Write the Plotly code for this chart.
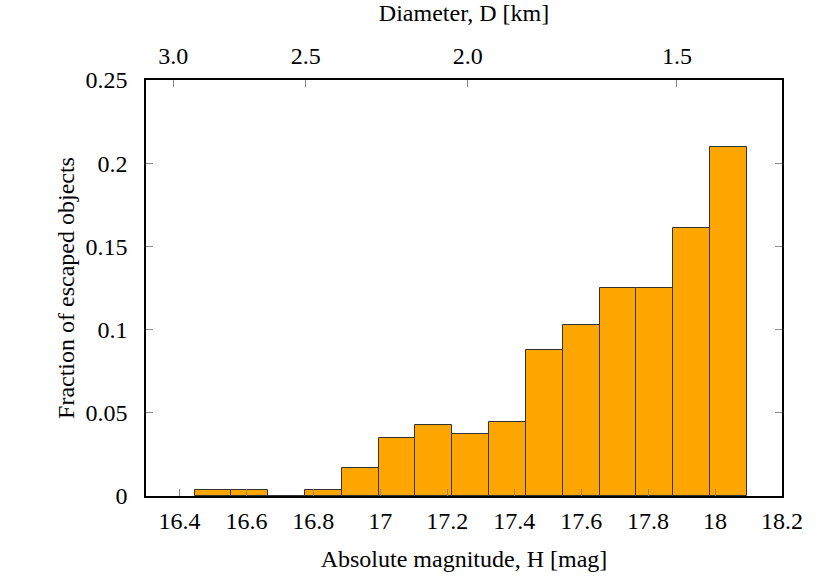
import numpy as np
import plotly.graph_objects as go

# Histogram of escaped objects per absolute magnitude bin (bin width 0.11 mag)
h_centers = [16.50, 16.61, 16.72, 16.83, 16.94, 17.05, 17.16, 17.27,
             17.38, 17.49, 17.60, 17.71, 17.82, 17.93, 18.04]
fraction = [0.0036, 0.0036, 0.0, 0.0036, 0.0167, 0.0351, 0.0429, 0.0373,
            0.0447, 0.0880, 0.1028, 0.1253, 0.1253, 0.1608, 0.2095]
bin_width = 0.11

# Top axis: diameter from H with D = 1329 / sqrt(pv) * 10^(-H/5)
albedo = 0.055
diam_ticks = [3.0, 2.5, 2.0, 1.5]
diam_labels = ["3.0", "2.5", "2.0", "1.5"]
h_of_diam = [5 * np.log10(1329 / (d * np.sqrt(albedo))) for d in diam_ticks]

x_range = [16.3, 18.2]
tick_font = dict(family="Liberation Serif", size=24, color="black")
title_font = dict(family="Liberation Serif", size=24, color="black")

fig = go.Figure()
fig.add_trace(go.Bar(
    x=h_centers, y=fraction, width=bin_width,
    marker=dict(color="#FFA500", line=dict(color="#333333", width=1)),
    showlegend=False, hoverinfo="x+y",
))
# invisible helper so the top (diameter) axis gets drawn
fig.add_trace(go.Scatter(
    x=h_of_diam, y=[0] * len(h_of_diam), xaxis="x2", mode="markers",
    marker=dict(opacity=0), showlegend=False, hoverinfo="skip",
))

fig.update_layout(
    width=830, height=581,
    margin=dict(l=146, r=48, t=80, b=85),
    plot_bgcolor="white", paper_bgcolor="white",
    font=tick_font,
    bargap=0,
    xaxis=dict(
        range=x_range, tickmode="linear", tick0=16.4, dtick=0.2,
        ticks="inside", ticklen=7, tickcolor="#888888", tickfont=tick_font,
        ticklabelstandoff=2,
        showline=True, linecolor="black", linewidth=1.5, mirror=False,
        showgrid=False, zeroline=False,
        title=dict(text="Absolute magnitude, H [mag]", font=title_font, standoff=18),
    ),
    xaxis2=dict(
        overlaying="x", side="top", range=x_range,
        tickmode="array", tickvals=h_of_diam, ticktext=diam_labels,
        ticks="inside", ticklen=7, tickcolor="#888888", tickfont=tick_font,
        ticklabelstandoff=5,
        showline=True, linecolor="black", linewidth=1.5,
        showgrid=False, zeroline=False,
        title=dict(text="Diameter, D [km]", font=title_font, standoff=14),
    ),
    yaxis=dict(
        range=[0, 0.25], tickmode="linear", tick0=0, dtick=0.05,
        ticks="inside", ticklen=7, tickcolor="#888888", tickfont=tick_font,
        ticklabelstandoff=12,
        showline=True, linecolor="black", linewidth=1.5, mirror="ticks",
        showgrid=False, zeroline=False,
        title=dict(text="Fraction of escaped objects", font=title_font, standoff=4),
    ),
)

fig.write_html("out.html", config={"displayModeBar": False},
               post_script="document.body.style.margin='0';")
